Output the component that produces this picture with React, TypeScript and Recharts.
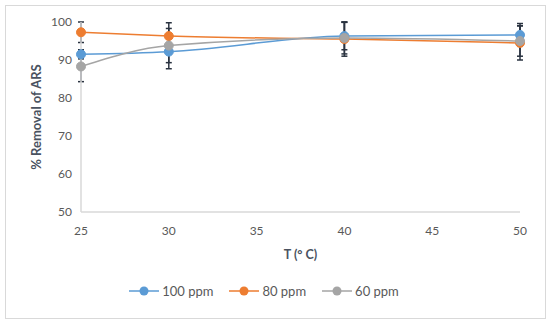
import React from 'react';
import { LineChart, Line, XAxis, YAxis, ErrorBar, Legend, Label } from 'recharts';

const temperatures = [25, 30, 40, 50];
const ppm100 = [91.5, 92.2, 96.3, 96.6];
const ppm80 = [97.3, 96.3, 95.5, 94.5];
const ppm60 = [88.3, 93.8, 95.8, 95.0];
const err100 = [1.2, 4.5, 3.6, 3.0];
const err80 = [2.7, 3.5, 4.5, 4.5];
const err60 = [4.0, 4.5, 4.2, 4.0];
const xTicks = [25, 30, 35, 40, 45, 50];
const yTicks = [50, 60, 70, 80, 90, 100];

const seriesInfo = [
  { key: 'p100', name: '100 ppm', color: '#5B9BD5' },
  { key: 'p80', name: '80 ppm', color: '#ED7D31' },
  { key: 'p60', name: '60 ppm', color: '#A5A5A5' },
];

const data = temperatures.map((t, i) => ({
  t,
  p100: ppm100[i],
  p80: ppm80[i],
  p60: ppm60[i],
  e100: err100[i],
  e80: err80[i],
  e60: err60[i],
}));

const FONT = 'Lato, "Open Sans", sans-serif';
const TEXT = '#595959';
const LABEL = '#4a5260';
const ERR = '#2a3340';

const LegendContent = () => (
  <div style={{ display: 'flex', justifyContent: 'center', alignItems: 'center', fontFamily: FONT, fontSize: 13, color: TEXT, height: 30, paddingLeft: 8 }}>
    {seriesInfo.map((s) => (
      <div key={s.key} style={{ display: 'flex', alignItems: 'center', margin: '0 8px' }}>
        <svg width={30} height={12} style={{ marginRight: 3 }}>
          <line x1={0} y1={6} x2={30} y2={6} stroke={s.color} strokeWidth={1.5} />
          <circle cx={15} cy={6} r={4.5} fill={s.color} />
        </svg>
        <span>{s.name}</span>
      </div>
    ))}
  </div>
);

export default function App() {
  return (
    <div style={{ position: 'absolute', left: 0, top: 0, width: 550, height: 324, background: '#fff' }}>
      <div style={{ position: 'absolute', left: 5, top: 5, width: 539, height: 312, border: '1px solid #d9d9d9' }} />
      <div style={{ position: 'absolute', left: 0, top: 0 }}>
        <LineChart width={550} height={324} data={data} margin={{ top: 22, right: 30, left: 0, bottom: 18 }}>
          <XAxis
            dataKey="t"
            type="number"
            domain={[25, 50]}
            ticks={xTicks}
            tickLine={false}
            axisLine={{ stroke: '#d9d9d9', strokeWidth: 1.5 }}
            tick={{ fill: TEXT, fontSize: 12, fontFamily: FONT }}
            tickMargin={8}
            height={64}
          >
            <Label value="T (° C)" position="insideBottom" offset={17} style={{ fill: LABEL, fontSize: 12.5, fontWeight: 'bold', fontFamily: FONT }} />
          </XAxis>
          <YAxis
            type="number"
            domain={[50, 100]}
            ticks={yTicks}
            tickLine={false}
            axisLine={{ stroke: '#d9d9d9', strokeWidth: 1.5 }}
            tick={{ fill: TEXT, fontSize: 12, fontFamily: FONT }}
            tickMargin={3}
            width={81}
          >
            <Label value="% Removal of ARS" angle={-90} position="insideLeft" offset={36} style={{ textAnchor: 'middle', fill: LABEL, fontSize: 13, fontWeight: 'bold', fontFamily: FONT }} />
          </YAxis>
          <Legend verticalAlign="bottom" height={30} content={<LegendContent />} />
          {seriesInfo.map((s) => (
            <Line
              key={s.key}
              type="monotone"
              dataKey={s.key}
              name={s.name}
              stroke={s.color}
              strokeWidth={1.5}
              dot={{ r: 4.5, fill: s.color, stroke: s.color, strokeWidth: 1 }}
              activeDot={false}
              isAnimationActive={false}
            >
              <ErrorBar dataKey={'e' + s.key.slice(1)} direction="y" width={3} stroke={ERR} strokeWidth={1.5} />
            </Line>
          ))}
        </LineChart>
      </div>
    </div>
  );
}
